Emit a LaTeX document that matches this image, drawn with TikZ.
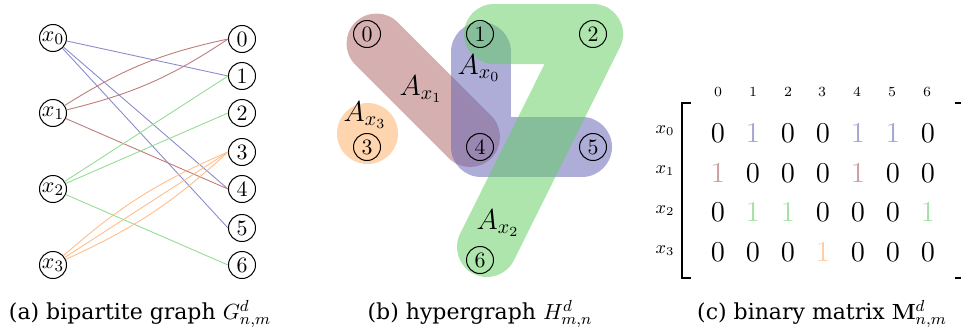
\documentclass[tikz,border=0pt]{standalone}
\usepackage[no-math]{fontspec}
\setmainfont{DejaVu Serif}
\definecolor{lblue}{RGB}{140,140,205}
\definecolor{lred}{RGB}{190,125,125}
\definecolor{lgreen}{RGB}{150,220,150}
\definecolor{lorange}{RGB}{255,190,140}
\definecolor{bblue}{RGB}{100,100,180}
\definecolor{bred}{RGB}{178,105,105}
\definecolor{bgreen}{RGB}{100,205,100}
\definecolor{borange}{RGB}{255,172,95}
\definecolor{mblue}{RGB}{165,165,215}
\definecolor{mred}{RGB}{205,160,160}
\definecolor{mgreen}{RGB}{165,225,165}
\definecolor{morange}{RGB}{255,205,165}
\definecolor{mblack}{RGB}{0,0,0}
\tikzset{
  vnode/.style={circle,draw,line width=0.5pt,minimum size=13.5pt,inner sep=0pt,font=\fontsize{11}{13}\selectfont},
  edgeline/.style={line width=0.45pt},
  blob/.style={line width=30pt,line cap=round,line join=round,draw opacity=0.53},
  captext/.style={font=\fontsize{11}{13}\selectfont},
  entry/.style={font=\Large,inner sep=0pt},
  hdr/.style={font=\scriptsize,inner sep=0pt},
  rowlab/.style={font=\small,inner sep=0pt},
  hlabel/.style={font=\Large,inner sep=0pt}
}
\begin{document}
\begin{tikzpicture}[x=0.5pt,y=-0.5pt]
\useasboundingbox (0,0) rectangle (961,332);
% ---------- (a) bipartite graph ----------
\foreach \i/\y in {0/38,1/113,2/189,3/265}
  \node[vnode] (x\i) at (53,\y) {$x_{\i}$};
\foreach \i/\y in {0/39,1/76,2/113,3/152,4/189,5/228,6/265}
  \node[vnode] (r\i) at (242,\y) {$\i$};
\draw[edgeline,lblue] (x0) -- (r1.west);
\draw[edgeline,lblue] (x0) -- (r4.west);
\draw[edgeline,lblue] (x0) -- (r5.west);
\draw[edgeline,lred] (x1) to[bend left=10] (r0.west);
\draw[edgeline,lred] (x1) to[bend right=10] (r0.west);
\draw[edgeline,lred] (x1) -- (r4.west);
\draw[edgeline,lgreen] (x2) -- (r1.west);
\draw[edgeline,lgreen] (x2) -- (r2.west);
\draw[edgeline,lgreen] (x2) -- (r6.west);
\draw[edgeline,lorange] (x3) to[bend left=9] (r3.west);
\draw[edgeline,lorange] (x3) -- (r3.west);
\draw[edgeline,lorange] (x3) to[bend right=9] (r3.west);
\node[captext] (capa) at (140,314) {(a) bipartite graph $G^{d}_{n,m}$};
% ---------- (b) hypergraph ----------
\draw[blob,bred] (376.5,43.5) -- (470,137);
\draw[blob,bblue] (481,52) -- (481,147) -- (582,147);
\draw[blob,bgreen] (494,34) -- (593,34) -- (487,247);
\fill[borange,fill opacity=0.5] (367.5,133.5) circle[radius=15.25pt];
\foreach \i/\x/\y in {0/367/34,1/480/34,2/593/34,3/367/147,4/480/147,5/593/147,6/480/260}
  \node[vnode] (h\i) at (\x,\y) {$\i$};
\node[hlabel] (ax0) at (479,68) {$A_{x_0}$};
\node[hlabel] (ax1) at (421,89) {$A_{x_1}$};
\node[hlabel] (ax3) at (365,115) {$A_{x_3}$};
\node[hlabel] (ax2) at (498,223) {$A_{x_2}$};
\node[captext] (capb) at (480,314) {(b) hypergraph $H^{d}_{m,n}$};
% ---------- (c) binary matrix ----------
\foreach \c/\x in {0/718,1/753,2/788,3/822,4/857,5/892,6/927}
  \node[hdr] (hd\c) at (\x,92) {$\c$};
\foreach \r/\y in {0/131,1/171,2/211,3/251}
  \node[rowlab] (rl\r) at (665,\y) {$x_{\r}$};
\foreach \r/\y/\vals in {
  0/133/{0/mblack,1/mblue,0/mblack,0/mblack,1/mblue,1/mblue,0/mblack},
  1/173/{1/mred,0/mblack,0/mblack,0/mblack,1/mred,0/mblack,0/mblack},
  2/212/{0/mblack,1/mgreen,1/mgreen,0/mblack,0/mblack,0/mblack,1/mgreen},
  3/252/{0/mblack,0/mblack,0/mblack,1/morange,0/mblack,0/mblack,0/mblack}}{
  \foreach \v/\col [count=\c from 0] in \vals {
    \pgfmathsetmacro{\xx}{718+35*\c}
    \node[entry,text=\col] (m\r-\c) at (\xx,\y) {$\v$};
  }
}
\draw[line width=1pt] (691,103) -- (682,103) -- (682,278) -- (691,278);
\draw[line width=1pt] (955,103) -- (965,103);
\draw[line width=1pt] (955,278) -- (965,278);
\node[captext] (capc) at (822,314) {(c) binary matrix $\mathbf{M}^{d}_{n,m}$};
\end{tikzpicture}
\end{document}
